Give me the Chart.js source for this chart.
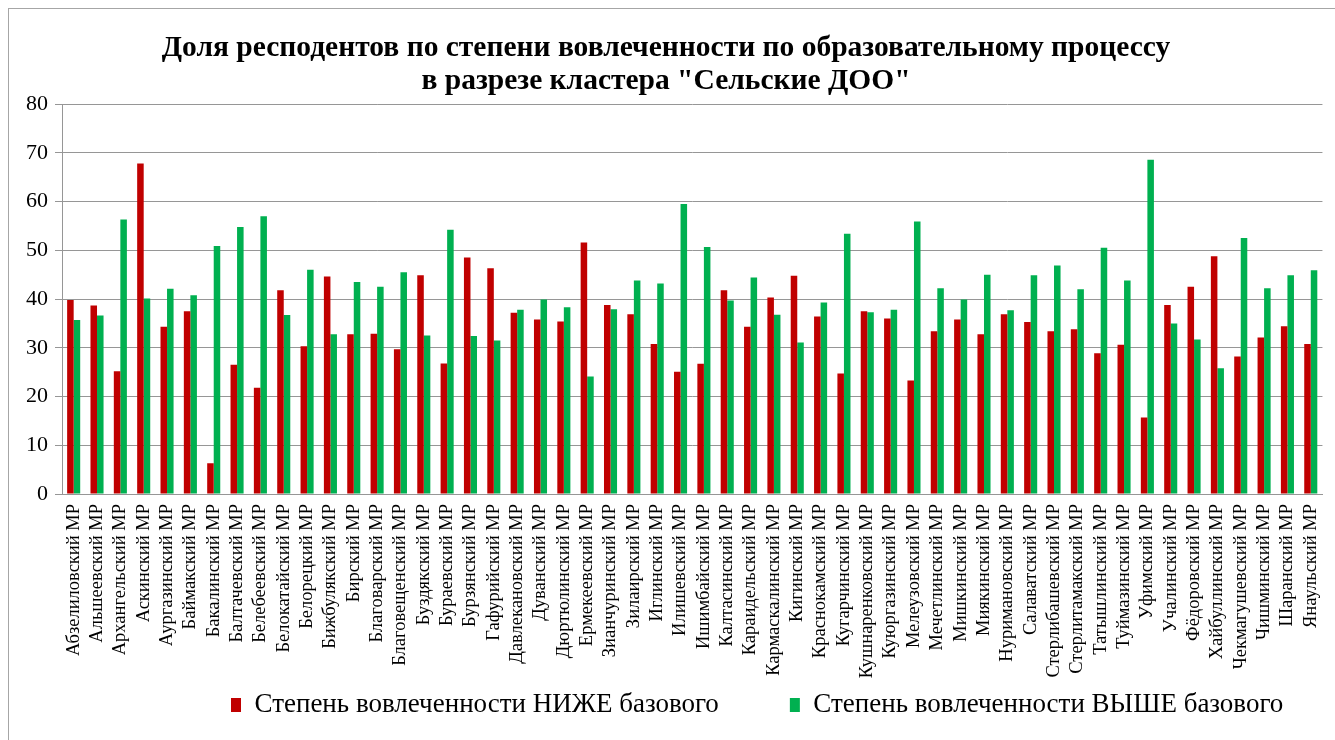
<!DOCTYPE html>
<html>
<head>
<meta charset="utf-8">
<script src="https://cdn.jsdelivr.net/npm/chart.js@4/dist/chart.umd.min.js"></script>
<style>
  html, body { margin: 0; padding: 0; background: #fff; }
  #wrap { position: relative; width: 1335px; height: 740px; overflow: hidden; }
  #frame { position: absolute; left: 8px; top: 8px; width: 1400px; height: 800px; border: 1px solid #a6a6a6; box-sizing: border-box; }
  #c { position: absolute; left: 0; top: 0; }
</style>
</head>
<body>
<div id="wrap">
  <div id="frame"></div>
  <canvas id="c" width="1335" height="740"></canvas>
</div>
<script>
const categories = [
  "Абзелиловский МР","Альшеевский МР","Архангельский МР","Аскинский МР","Аургазинский МР","Баймакский МР",
  "Бакалинский МР","Балтачевский МР","Белебеевский МР","Белокатайский МР","Белорецкий МР","Бижбулякский МР",
  "Бирский МР","Благоварский МР","Благовещенский МР","Буздякский МР","Бураевский МР","Бурзянский МР",
  "Гафурийский МР","Давлекановский МР","Дуванский МР","Дюртюлинский МР","Ермекеевский МР","Зианчуринский МР",
  "Зилаирский МР","Иглинский МР","Илишевский МР","Ишимбайский МР","Калтасинский МР","Караидельский МР",
  "Кармаскалинский МР","Кигинский МР","Краснокамский МР","Кугарчинский МР","Кушнаренковский МР","Куюргазинский МР",
  "Мелеузовский МР","Мечетлинский МР","Мишкинский МР","Миякинский МР","Нуримановский МР","Салаватский МР",
  "Стерлибашевский МР","Стерлитамакский МР","Татышлинский МР","Туймазинский МР","Уфимский МР","Учалинский МР",
  "Фёдоровский МР","Хайбуллинский МР","Чекмагушевский МР","Чишминский МР","Шаранский МР","Янаульский МР"
];
const belowBase = [
  39.8, 38.7, 25.2, 67.8, 34.3, 37.5, 6.3, 26.5, 21.8, 41.8, 30.3, 44.6,
  32.8, 32.9, 29.7, 44.9, 26.8, 48.5, 46.3, 37.2, 35.8, 35.4, 51.6, 38.8,
  36.9, 30.8, 25.1, 26.7, 41.8, 34.3, 40.3, 44.8, 36.4, 24.7, 37.5, 36.0,
  23.3, 33.4, 35.8, 32.8, 36.9, 35.3, 33.4, 33.8, 28.9, 30.6, 15.7, 38.8,
  42.5, 48.8, 28.2, 32.1, 34.4, 30.8
];
const aboveBase = [
  35.7, 36.6, 56.3, 40.1, 42.1, 40.8, 50.9, 54.8, 57.0, 36.7, 46.0, 32.8,
  43.5, 42.5, 45.5, 32.5, 54.2, 32.4, 31.5, 37.8, 39.9, 38.3, 24.1, 37.9,
  43.8, 43.2, 59.5, 50.7, 39.7, 44.4, 36.8, 31.1, 39.3, 53.4, 37.3, 37.8,
  55.9, 42.2, 39.9, 45.0, 37.7, 44.9, 46.9, 42.0, 50.5, 43.8, 68.6, 35.0,
  31.7, 25.8, 52.5, 42.2, 44.9, 45.9
];
const seriesNames = ["Степень вовлеченности НИЖЕ базового", "Степень вовлеченности ВЫШЕ базового"];
const titleLines = ["Доля респодентов по степени вовлеченности по образовательному процессу", "в разрезе кластера \"Сельские ДОО\""];
const yTicks = [0, 10, 20, 30, 40, 50, 60, 70, 80];

const serif = "'Liberation Serif', 'Times New Roman', serif";

// Places the legend row where the original chart has it (below the rotated category labels).
const legendPlacer = {
  id: 'legendPlacer',
  afterLayout(chart) {
    const lg = chart.legend;
    if (!lg) return;
    const p = lg.options.labels.padding;
    const fs = lg.options.labels.font.size;
    lg.left = 231 - p;
    lg.right = 1400;
    lg.width = lg.right - lg.left;
    lg.top = 705 - p - fs / 2;
    lg.bottom = 740;
    lg.height = lg.bottom - lg.top;
  }
};

new Chart(document.getElementById('c'), {
  type: 'bar',
  data: {
    labels: categories,
    datasets: [
      { label: seriesNames[0], data: belowBase, backgroundColor: '#C00000', borderWidth: 0 },
      { label: seriesNames[1], data: aboveBase, backgroundColor: '#00B050', borderWidth: 0 }
    ]
  },
  plugins: [legendPlacer],
  options: {
    responsive: false,
    animation: false,
    layout: { padding: { left: 0, right: 3, top: 0, bottom: 0 } },
    datasets: { bar: { categoryPercentage: 0.56, barPercentage: 1.0 } },
    plugins: {
      title: {
        display: true,
        text: titleLines,
        color: '#000',
        font: { family: serif, size: 29.5, weight: 'bold', lineHeight: 1.12 },
        padding: { top: 32, bottom: 6 }
      },
      legend: {
        position: 'bottom',
        align: 'start',
        maxHeight: 40,
        labels: {
          color: '#000',
          font: { family: serif, size: 27 },
          boxWidth: 10,
          boxHeight: 14,
          padding: 71
        }
      },
      tooltip: { enabled: false }
    },
    scales: {
      y: {
        min: 0, max: 80,
        afterFit: s => { s.width = 62; },
        afterBuildTicks: s => { s.ticks = yTicks.map(v => ({ value: v })); },
        ticks: { color: '#000', font: { family: serif, size: 22 }, padding: 7 },
        grid: { color: '#969696', lineWidth: 1, tickLength: 7, drawTicks: true },
        border: { display: true, color: '#969696', width: 1 }
      },
      x: {
        afterFit: s => { s.height = 206; },
        ticks: { color: '#000', font: { family: serif, size: 18.5 }, minRotation: 90, maxRotation: 90, autoSkip: false, padding: 2 },
        grid: { display: false },
        border: { display: true, color: '#969696', width: 1 }
      }
    }
  }
});
</script>
</body>
</html>
